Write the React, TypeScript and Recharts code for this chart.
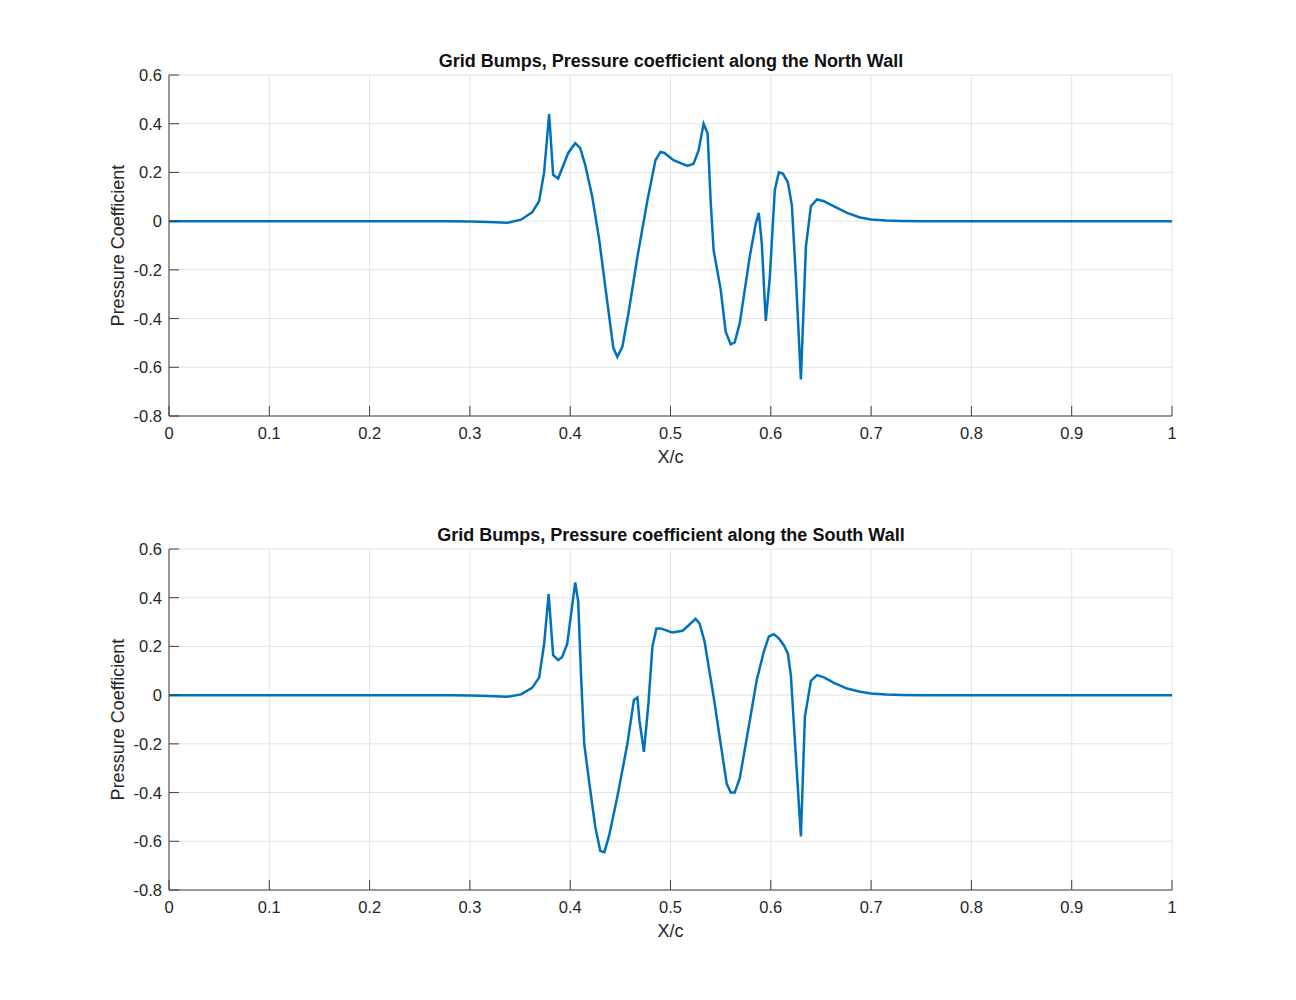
import React from "react"
import { CartesianGrid, Line, LineChart, XAxis, YAxis } from "recharts"

// x/c positions and pressure coefficients
const northX = [
  0, 0.1, 0.2, 0.28, 0.3, 0.311, 0.325, 0.337, 0.351, 0.362, 0.369, 0.374, 0.379, 0.383, 0.388, 0.398, 0.405,
  0.41, 0.415, 0.422, 0.429, 0.435, 0.443, 0.447, 0.452, 0.458, 0.467, 0.477, 0.485, 0.49, 0.494, 0.503,
  0.517, 0.523, 0.528, 0.533, 0.537, 0.54, 0.543, 0.55, 0.555, 0.56, 0.564, 0.569, 0.579, 0.585, 0.588,
  0.591, 0.595, 0.599, 0.604, 0.608, 0.612, 0.617, 0.621, 0.625, 0.63, 0.635, 0.64, 0.646, 0.653, 0.663,
  0.676, 0.689, 0.7, 0.715, 0.73, 0.75, 0.8, 0.9, 1,
]
const northCp = [
  0, 0, 0, 0, -0.001, -0.002, -0.005, -0.007, 0.006, 0.036, 0.082, 0.2, 0.44, 0.19, 0.175, 0.28, 0.32,
  0.3, 0.23, 0.1, -0.078, -0.27, -0.52, -0.557, -0.516, -0.38, -0.147, 0.086, 0.25, 0.284, 0.28, 0.25,
  0.227, 0.236, 0.29, 0.4, 0.36, 0.086, -0.12, -0.28, -0.454, -0.506, -0.498, -0.42, -0.146, -0.01, 0.034,
  -0.09, -0.41, -0.23, 0.127, 0.2, 0.195, 0.16, 0.066, -0.23, -0.65, -0.105, 0.062, 0.089, 0.082, 0.061,
  0.034, 0.015, 0.007, 0.003, 0.001, 0, 0, 0, 0,
]

const southX = [
  0, 0.1, 0.2, 0.28, 0.3, 0.311, 0.325, 0.337, 0.351, 0.362, 0.369, 0.374, 0.3785, 0.383, 0.388, 0.392,
  0.397, 0.405, 0.408, 0.411, 0.414, 0.419, 0.425, 0.43, 0.434, 0.4386, 0.447, 0.457, 0.4635, 0.467, 0.469,
  0.4735, 0.478, 0.482, 0.486, 0.49, 0.5017, 0.512, 0.52, 0.525, 0.529, 0.534, 0.543, 0.551, 0.556, 0.56,
  0.564, 0.569, 0.578, 0.586, 0.593, 0.598, 0.603, 0.608, 0.613, 0.617, 0.62, 0.625, 0.63, 0.634, 0.64,
  0.646, 0.653, 0.663, 0.676, 0.689, 0.7, 0.715, 0.73, 0.75, 0.8, 0.9, 1,
]
const southCp = [
  0, 0, 0, 0, -0.001, -0.002, -0.005, -0.007, 0.003, 0.03, 0.072, 0.21, 0.415, 0.164, 0.144, 0.157,
  0.21, 0.463, 0.383, 0.06, -0.2, -0.36, -0.54, -0.64, -0.645, -0.58, -0.417, -0.2, -0.02, -0.01, -0.103,
  -0.233, -0.034, 0.2, 0.274, 0.274, 0.257, 0.264, 0.294, 0.313, 0.294, 0.219, -0.007, -0.226, -0.363, -0.4,
  -0.4, -0.342, -0.13, 0.062, 0.178, 0.24, 0.25, 0.233, 0.205, 0.171, 0.082, -0.253, -0.58, -0.089, 0.059,
  0.082, 0.073, 0.05, 0.027, 0.014, 0.007, 0.003, 0.001, 0, 0, 0, 0,
]

const xTicks = [0, 0.1, 0.2, 0.3, 0.4, 0.5, 0.6, 0.7, 0.8, 0.9, 1]
const yTicks = [-0.8, -0.6, -0.4, -0.2, 0, 0.2, 0.4, 0.6]

const titles = [
  "Grid Bumps, Pressure coefficient along the North Wall",
  "Grid Bumps, Pressure coefficient along the South Wall",
]

const FONT = "'Liberation Sans', Arial, Helvetica, sans-serif"
const AXIS = "#404040"
const TICK_LEN = 10

const BottomTick = (props: any) => {
  const { x, y, payload } = props
  return (
    <g>
      <line x1={x} y1={y} x2={x} y2={y - TICK_LEN} stroke={AXIS} />
      <text x={x} y={y + 23} textAnchor="middle" fontSize={16.5} fontFamily={FONT} fill="#262626">
        {String(payload.value)}
      </text>
    </g>
  )
}

const TopTick = (props: any) => {
  const { x, y } = props
  return <line x1={x} y1={y} x2={x} y2={y + TICK_LEN} stroke={AXIS} />
}

const LeftTick = (props: any) => {
  const { x, y, payload } = props
  return (
    <g>
      <line x1={x} y1={y} x2={x + TICK_LEN} y2={y} stroke={AXIS} />
      <text x={x - 7} y={y + 6} textAnchor="end" fontSize={16.5} fontFamily={FONT} fill="#262626">
        {String(payload.value)}
      </text>
    </g>
  )
}

const RightTick = (props: any) => {
  const { x, y } = props
  return <line x1={x} y1={y} x2={x - TICK_LEN} y2={y} stroke={AXIS} />
}

const YLabel = (props: any) => {
  const { viewBox } = props
  const cx = viewBox.x + 9
  const cy = viewBox.y + viewBox.height / 2
  return (
    <text
      x={cx}
      y={cy}
      transform={`rotate(-90 ${cx} ${cy})`}
      textAnchor="middle"
      dominantBaseline="central"
      fontSize={18}
      fontFamily={FONT}
      fill="#262626"
    >
      Pressure Coefficient
    </text>
  )
}

function CpChart({ xs, cps, title, top }: { xs: number[]; cps: number[]; title: string; top: number }) {
  const data = xs.map((x, i) => ({ x, cp: cps[i] }))
  return (
    <div style={{ position: "absolute", left: 0, top, width: 1296, height: 474 }}>
      <div
        style={{
          position: "absolute",
          left: 170,
          width: 1002,
          top: 50,
          textAlign: "center",
          fontFamily: FONT,
          fontWeight: "bold",
          fontSize: 18,
          color: "#111",
          lineHeight: "22px",
        }}
      >
        {title}
      </div>
      <LineChart width={1296} height={474} data={data} margin={{ top: 75, right: 124, bottom: 0, left: 109 }}>
        <CartesianGrid stroke="#e4e4e4" />
        <XAxis
          dataKey="x"
          type="number"
          domain={[0, 1]}
          ticks={xTicks}
          height={58}
          tickSize={0}
          tickMargin={0}
          tickLine={false}
          stroke={AXIS}
          tick={<BottomTick />}
          interval={0}
          label={{ value: "X/c", position: "insideBottom", offset: 11, fontSize: 18, fontFamily: FONT, fill: "#262626" }}
        />
        <XAxis
          xAxisId="top"
          orientation="top"
          dataKey="x"
          type="number"
          domain={[0, 1]}
          ticks={xTicks}
          height={0}
          tickSize={0}
          tickMargin={0}
          tickLine={false}
          stroke={AXIS}
          tick={<TopTick />}
          interval={0}
        />
        <YAxis
          type="number"
          domain={[-0.8, 0.6]}
          ticks={yTicks}
          width={60}
          tickSize={0}
          tickMargin={0}
          tickLine={false}
          stroke={AXIS}
          tick={<LeftTick />}
          interval={0}
          allowDataOverflow
          label={<YLabel />}
        />
        <YAxis
          yAxisId="right"
          orientation="right"
          type="number"
          domain={[-0.8, 0.6]}
          ticks={yTicks}
          width={0}
          tickSize={0}
          tickMargin={0}
          tickLine={false}
          stroke={AXIS}
          tick={<RightTick />}
          interval={0}
        />
        <Line
          type="linear"
          dataKey="cp"
          stroke="#0072BD"
          strokeWidth={2.5}
          dot={false}
          isAnimationActive={false}
        />
      </LineChart>
    </div>
  )
}

export default function App() {
  return (
    <div style={{ position: "absolute", left: 0, top: 0, width: 1296, height: 1000, background: "#fff" }}>
      <CpChart xs={northX} cps={northCp} title={titles[0]} top={0} />
      <CpChart xs={southX} cps={southCp} title={titles[1]} top={474} />
    </div>
  )
}
